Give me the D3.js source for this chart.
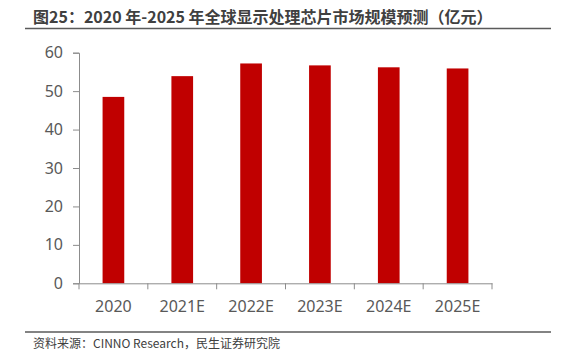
<!DOCTYPE html>
<html><head><meta charset="utf-8">
<script src="https://cdn.jsdelivr.net/npm/d3@7/dist/d3.min.js"></script>
<style>
body{margin:0;background:#fff;}
svg{display:block;font-family:"Noto Sans CJK SC","Noto Sans",sans-serif;}
</style></head>
<body>
<script>
const title = "图25：2020 年-2025 年全球显示处理芯片市场规模预测（亿元）";
const source = "资料来源：CINNO Research，民生证券研究院";
const categories = ["2020","2021E","2022E","2023E","2024E","2025E"];
const values = [48.5, 53.9, 57.2, 56.7, 56.2, 55.9];
const yTicks = [0,10,20,30,40,50,60];

const W=562,H=359;
const svg=d3.select("body").append("svg").attr("width",W).attr("height",H);

svg.append("text").attr("x",33).attr("y",23).attr("font-size",16).attr("font-weight","bold")
  .attr("fill","#404040").text(title);
svg.append("line").attr("x1",25).attr("x2",551).attr("y1",28.5).attr("y2",28.5)
  .attr("stroke","#5a5a5a").attr("stroke-width",1.6);

const x=d3.scaleBand().domain(categories).range([79,492]).padding(0);
const y=d3.scaleLinear().domain([0,60]).range([283.3,52.7]);

const axisColor="#8c8c8c", textColor="#595959";

// bars
const bw=x.bandwidth()*0.315;
svg.append("g").selectAll("rect").data(values).join("rect")
  .attr("x",(d,i)=>x(categories[i])+x.bandwidth()/2-bw/2)
  .attr("y",d=>y(d)).attr("width",bw).attr("height",d=>y(0)-y(d))
  .attr("fill","#C00000");

// y axis
const ya=svg.append("g").attr("transform","translate(79,0)")
  .call(d3.axisLeft(y).tickValues(yTicks).tickSize(6).tickPadding(10).tickFormat(d3.format("d")));
ya.select(".domain").attr("stroke",axisColor);
ya.selectAll(".tick line").attr("stroke",axisColor);
ya.selectAll(".tick text").attr("fill",textColor).attr("font-size",16)
  .attr("font-family","'Noto Sans','Noto Sans CJK SC',sans-serif");

// x axis
const xa=svg.append("g").attr("transform",`translate(0,${y(0)})`)
  .call(d3.axisBottom(x).tickSize(0).tickPadding(17));
xa.select(".domain").attr("stroke",axisColor);
xa.selectAll(".tick text").attr("fill",textColor).attr("font-size",16)
  .attr("font-family","'Noto Sans','Noto Sans CJK SC',sans-serif");
// boundary ticks
const bounds=categories.map(c=>x(c)).concat([x.range()[1]]);
xa.append("g").selectAll("line").data(bounds).join("line")
  .attr("x1",d=>d).attr("x2",d=>d).attr("y1",0).attr("y2",6).attr("stroke",axisColor);

svg.append("line").attr("x1",25).attr("x2",551).attr("y1",332).attr("y2",332)
  .attr("stroke","#5a5a5a").attr("stroke-width",1.6);
svg.append("text").attr("x",33).attr("y",348).attr("font-size",12)
  .attr("fill","#404040").text(source);
</script>
</body></html>
